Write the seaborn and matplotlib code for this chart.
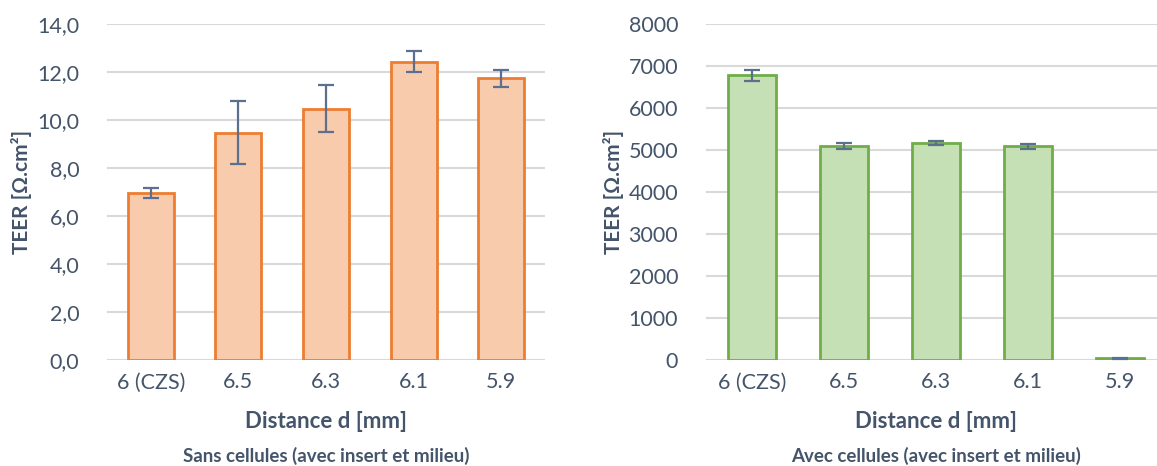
import numpy as np
import pandas as pd
import matplotlib
matplotlib.use("Agg")
import matplotlib.pyplot as plt
import seaborn as sns
from matplotlib.ticker import FuncFormatter

# ---- data ----
categories = ["6 (CZS)", "6.5", "6.3", "6.1", "5.9"]
teer_sans = [6.97, 9.47, 10.47, 12.43, 11.74]
err_sans = [0.20, 1.32, 0.97, 0.44, 0.35]
teer_avec = [6765, 5093, 5150, 5077, 40]
err_avec = [127, 75, 50, 55, 8]
subtitle_left = "Sans cellules (avec insert et milieu)"
subtitle_right = "Avec cellules (avec insert et milieu)"
xlabel = "Distance d [mm]"
ylabel = "TEER [Ω.cm²]"

sns.set_theme(style="white")
plt.rcParams['font.family'] = ['Lato', 'DejaVu Sans']

TEXT = "#44546A"
GRID = "#D9D9D9"
ERR = "#5B6F8F"

W, H = 1157, 466
fig = plt.figure(figsize=(W / 100, H / 100), dpi=100)

def px_axes(left, right, top, bottom):
    return fig.add_axes([left / W, 1 - bottom / H, (right - left) / W, (bottom - top) / H])

ax1 = px_axes(107, 545, 24, 360)
ax2 = px_axes(706, 1166, 23.5, 360)

def draw(ax, vals, errs, fill, edge, ymax, step, fmt, subtitle, lab_x):
    df = pd.DataFrame({"cat": categories, "val": vals})
    sns.barplot(data=df, x="cat", y="val", ax=ax, color=fill, edgecolor=edge,
                linewidth=2, width=0.525, errorbar=None, saturation=1, zorder=3)
    ax.errorbar(np.arange(len(categories)), vals, yerr=errs, fmt="none",
                ecolor=ERR, elinewidth=1.6, capsize=6, capthick=1.6, zorder=4)
    ax.set_xlim(-0.5, len(categories) - 0.5)
    ax.set_ylim(0, ymax)
    ax.set_yticks(np.arange(0, ymax + step / 2, step))
    ax.yaxis.set_major_formatter(FuncFormatter(fmt))
    ax.grid(axis="y", color=GRID, linewidth=1.5, zorder=0)
    ax.set_axisbelow(True)
    for s in ax.spines.values():
        s.set_visible(False)
    ax.tick_params(axis="both", length=0, labelsize=15.5, colors=TEXT)
    ax.tick_params(axis="x", pad=9)
    ax.tick_params(axis="y", pad=20)
    ax.set_xlabel(xlabel, fontsize=16, fontweight="bold", color=TEXT, labelpad=13)
    ax.set_ylabel(ylabel, fontsize=15, fontweight="bold", color=TEXT)
    ax.yaxis.set_label_coords(lab_x, 0.5)
    ax.text(0.5, -0.285, subtitle, transform=ax.transAxes, ha="center", va="center",
            fontsize=13.5, fontweight="bold", color=TEXT)

draw(ax1, teer_sans, err_sans, "#F8CBAD", "#ED7D31", 14, 2,
     lambda v, p: f"{v:.1f}".replace(".", ","), subtitle_left, -0.172)
draw(ax2, teer_avec, err_avec, "#C5E0B4", "#70AD47", 8000, 1000,
     lambda v, p: f"{int(v)}", subtitle_right, -0.178)

fig.savefig("out.png", dpi=100, facecolor="white")
